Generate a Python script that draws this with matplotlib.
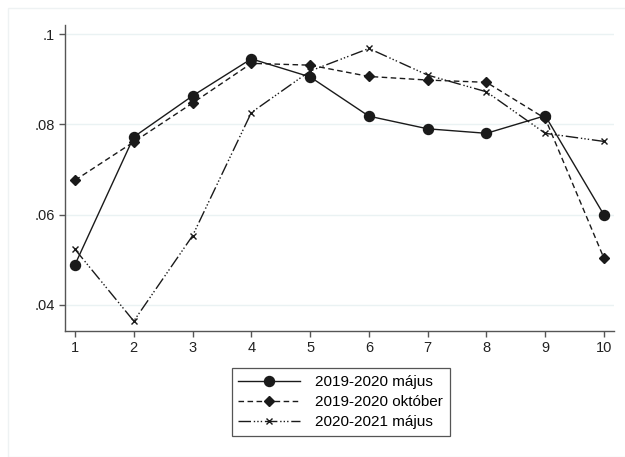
import matplotlib.pyplot as plt
from matplotlib.patches import Rectangle

plt.rcParams['font.family'] = ['Liberation Sans', 'DejaVu Sans']

# data
x = [1, 2, 3, 4, 5, 6, 7, 8, 9, 10]
majus_1920 = [0.0489, 0.0772, 0.0863, 0.0945, 0.0905, 0.0818, 0.0790, 0.0780, 0.0819, 0.0599]
oktober_1920 = [0.0676, 0.0761, 0.0847, 0.0935, 0.0931, 0.0906, 0.0898, 0.0893, 0.0813, 0.0503]
majus_2021 = [0.0523, 0.0364, 0.0553, 0.0826, 0.0918, 0.0968, 0.0909, 0.0872, 0.0780, 0.0762]
labels = ['2019-2020 május', '2019-2020 október', '2020-2021 május']
yticks = [0.04, 0.06, 0.08, 0.1]
ytick_labels = ['.04', '.06', '.08', '.1']

fig = plt.figure(figsize=(6.25, 4.57), dpi=100)
ax = fig.add_axes([0.104, 0.2757, 0.8784, 0.6696])

# faint outer frame like stata graph region
fig.patches.append(Rectangle((8 / 625, 0), 1, 1 - 8 / 457, transform=fig.transFigure,
                             fill=False, edgecolor='#eef2f3', linewidth=1))

ax.plot(x, majus_1920, color='#1a1a1a', lw=1.0, marker='o', ms=7.2, label=labels[0])
ax.plot(x, oktober_1920, color='#1a1a1a', lw=1.0, ls=(0, (4, 2.5)), marker='D', ms=5.3,
        label=labels[1])
ax.plot(x, majus_2021, color='#1a1a1a', lw=1.0, ls=(0, (9, 2, 1, 1.5, 1, 1.5, 1, 2)),
        marker='x', ms=5, mew=1.0, label=labels[2])

ax.set_xlim(0.83, 10.17)
ax.set_ylim(0.0342, 0.102)
ax.set_xticks(x)
ax.set_yticks(yticks)
ax.set_yticklabels(ytick_labels)
ax.grid(axis='y', color='#eaf2f3', lw=1)
ax.set_axisbelow(True)
for s in ['top', 'right']:
    ax.spines[s].set_visible(False)
for s in ['left', 'bottom']:
    ax.spines[s].set_color('#555555')
    ax.spines[s].set_linewidth(1.0)
ax.tick_params(colors='#555555', labelcolor='#222222', labelsize=10.5, length=4, width=1)

leg = fig.legend(loc='center', bbox_to_anchor=(0.545, 0.12), fontsize=11,
                 handlelength=4.0, fancybox=False, edgecolor='#555555',
                 framealpha=1, borderpad=0.45, labelspacing=0.4, handletextpad=1.0,
                 borderaxespad=0)
leg.get_frame().set_linewidth(0.9)

fig.savefig('out.png', dpi=100)
